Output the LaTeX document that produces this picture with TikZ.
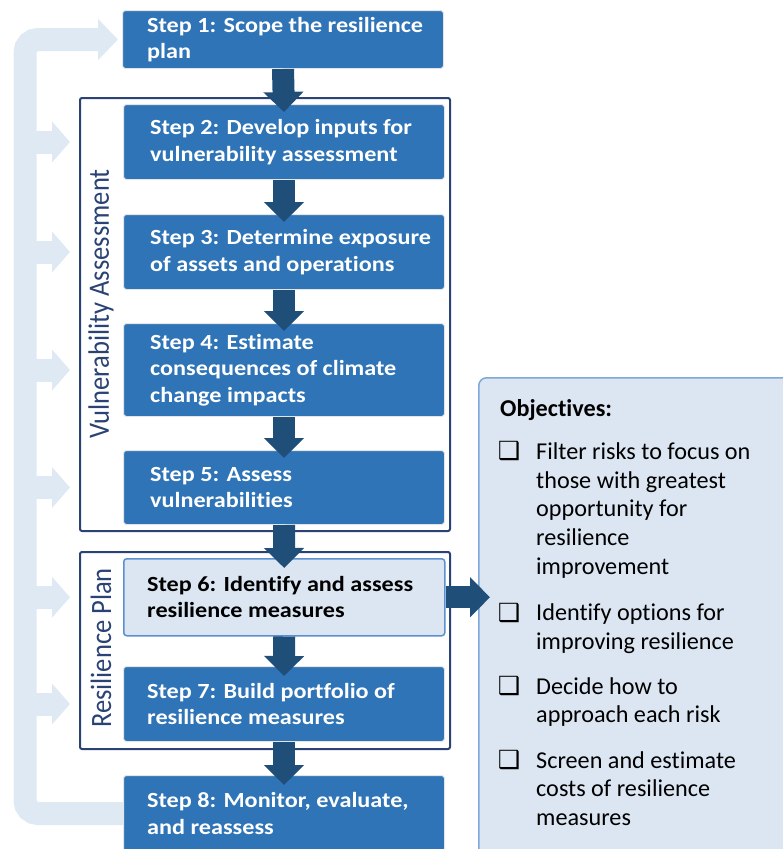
\documentclass[tikz,border=0pt]{standalone}
\usepackage{fontspec}
\setmainfont{Carlito}[FakeStretch=1.12, Ligatures=NoCommon]
\newfontfamily\objfont{Carlito}[Ligatures=NoCommon]
\newfontfamily\rotfont{Carlito}[FakeStretch=0.9, Ligatures=NoCommon]
\newfontfamily\symfont{DejaVu Sans}
\usetikzlibrary{arrows.meta,backgrounds,calc}
\definecolor{stepblue}{HTML}{2F74B7}
\definecolor{arrowblue}{HTML}{1F4E79}
\definecolor{framenavy}{HTML}{2B4274}
\definecolor{lightfill}{HTML}{DCE6F2}
\definecolor{loopblue}{HTML}{DFE9F4}
\definecolor{objborder}{HTML}{7FA8D8}
\definecolor{sixborder}{HTML}{5C8FCF}
\begin{document}
\begin{tikzpicture}[x=1pt,y=-1pt,
  stepbox/.style={rectangle, rounded corners=3pt, fill=stepblue, draw=white!80!gray, line width=1pt, minimum width=321pt, anchor=north west, inner sep=0pt},
  steptext/.style={anchor=west, align=left, font=\fontsize{21.6}{26.3}\selectfont\bfseries, text=white, inner sep=0pt},
  framebox/.style={rectangle, draw=framenavy, line width=2pt, rounded corners=2pt, minimum width=370pt, anchor=north west, inner sep=0pt},
  flow/.style={draw=arrowblue, line width=22pt, -{Triangle[width=39pt,length=20pt]}},
  loopband/.style={draw=loopblue, line width=23pt},
  branch/.style={draw=loopblue, line width=23pt, -{Triangle[width=40pt,length=18pt]}},
  sidelabel/.style={rotate=90, font=\rotfont\fontsize{29.5}{29.5}\selectfont, text=framenavy, inner sep=0pt},
  objtext/.style={anchor=north west, inner sep=0pt, align=left, font=\objfont\fontsize{24.2}{28.7}\selectfont, text=black},
  bullet/.style={inner sep=0pt, font=\symfont\fontsize{25}{25}\selectfont, text=black},
]
\useasboundingbox (0,0) rectangle (783,849);

% frames
\node[framebox, minimum height=433pt] (va) at (79,97) {};
\node[framebox, minimum height=197pt] (rp) at (79,551) {};

% step boxes
\node[stepbox, minimum height=58pt] (s1) at (122,10) {};
\node[stepbox, minimum height=75pt] (s2) at (123,104) {};
\node[stepbox, minimum height=75pt] (s3) at (123,214) {};
\node[stepbox, minimum height=93pt] (s4) at (123,323) {};
\node[stepbox, minimum height=74pt] (s5) at (123,450) {};
\node[stepbox, minimum height=77pt, fill=lightfill, draw=sixborder, line width=1.5pt] (s6) at (123,558) {};
\node[stepbox, minimum height=75pt] (s7) at (123,666) {};
\node[stepbox, minimum height=76pt] (s8) at (123,775) {};

% step texts
\node[steptext] (t1) at ([xshift=25pt]s1.west) {Step 1: Scope the resilience\\plan};
\node[steptext] (t2) at ([xshift=27pt]s2.west) {Step 2: Develop inputs for\\vulnerability assessment};
\node[steptext] (t3) at ([xshift=27pt]s3.west) {Step 3: Determine exposure\\of assets and operations};
\node[steptext] (t4) at ([xshift=27pt]s4.west) {Step 4: Estimate\\consequences of climate\\change impacts};
\node[steptext] (t5) at ([xshift=27pt]s5.west) {Step 5: Assess\\vulnerabilities};
\node[steptext, text=black] (t6) at ([xshift=24pt]s6.west) {Step 6: Identify and assess\\resilience measures};
\node[steptext] (t7) at ([xshift=24pt]s7.west) {Step 7: Build portfolio of\\resilience measures};
\node[steptext] (t8) at ([xshift=24pt]s8.west) {Step 8: Monitor, evaluate,\\and reassess};

% side labels
\node[sidelabel] (lva) at (101,304) {Vulnerability Assessment};
\node[sidelabel] (lrp) at (101,648) {Resilience Plan};

% objectives box
\node[rectangle, rounded corners=8pt, fill=lightfill, draw=objborder, line width=1.5pt, minimum width=320pt, minimum height=490pt, anchor=north west, inner sep=0pt] (ob) at (478,377) {};
\node[objtext] (otitle) at (500,399) {\textbf{Objectives:}};
\node[objtext] (o1) at (536,442.5) {Filter risks to focus on\\those with greatest\\opportunity for\\resilience\\improvement};
\node[objtext] (o2) at (536,603.5) {Identify options for\\improving resilience};
\node[objtext] (o3) at (536,677) {Decide how to\\approach each risk};
\node[objtext] (o4) at (536,751) {Screen and estimate\\costs of resilience\\measures};
\node[bullet] (b1) at (509,451) {❑};
\node[bullet] (b2) at (509,613) {❑};
\node[bullet] (b3) at (509,686) {❑};
\node[bullet] (b4) at (509,760) {❑};

% flow arrows
\draw[flow] (s1.south) -- ([yshift=-8pt]s2.north);
\draw[flow] (s2.south) -- ([yshift=-8pt]s3.north);
\draw[flow] (s3.south) -- ([yshift=-8pt]s4.north);
\draw[flow] (s4.south) -- ([yshift=-8pt]s5.north);
\draw[flow] (s5.south) -- ([yshift=-10pt]s6.north);
\draw[flow] (s6.south) -- ([yshift=-10pt]s7.north);
\draw[flow] (s7.south) -- ([yshift=-10pt]s8.north);
\draw[flow] (s6.east) -- ($(s6.east -| ob.west)+(12,0)$);

% feedback loop
\coordinate (bandx) at (25,0);
\begin{scope}[on background layer]
\draw[loopband, -{Triangle[width=40pt,length=20pt]}, rounded corners=13pt] (s8.west) -- (s8.west -| bandx) -- (s1.west -| bandx) -- ([xshift=-4pt]s1.west);
\foreach \n in {2,...,7} {
  \draw[branch] (s\n.west -| bandx) -- ([xshift=-53pt]s\n.west);
}
\end{scope}
\end{tikzpicture}
\end{document}
